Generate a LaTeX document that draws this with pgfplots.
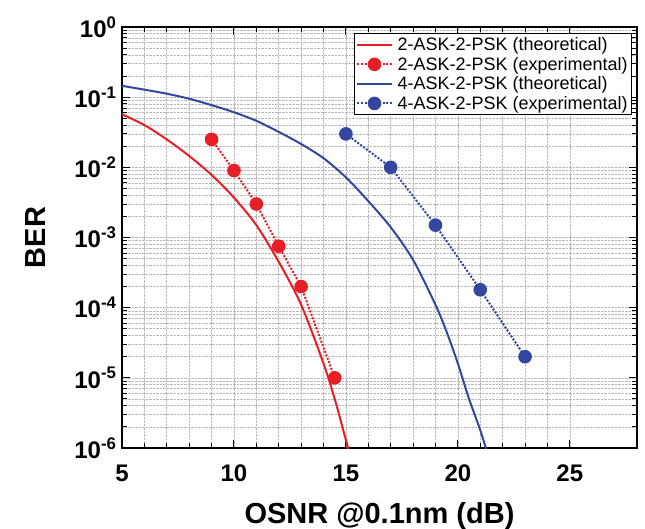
\documentclass[border=0pt]{standalone}
\usepackage{fontspec}
\setmainfont{Liberation Sans}
\usepackage{pgfplots}
\pgfplotsset{compat=1.18}
\definecolor{berred}{RGB}{232,30,38}
\definecolor{berblue}{RGB}{52,70,160}

\begin{document}
\begin{tikzpicture}
\useasboundingbox (-122pt,-81pt) rectangle (523pt,448pt);
\begin{axis}[
    scale only axis,
    width=515pt, height=421pt,
    ymode=log,
    xmin=5, xmax=28,
    ymin=1e-6, ymax=1,
    xtick={5,10,15,20,25},
    xticklabels={5,10,15,20,25},
    minor x tick num=4,
    ytick={1e-6,1e-5,1e-4,1e-3,1e-2,1e-1,1},
    yticklabels={10\textsuperscript{-6},10\textsuperscript{-5},10\textsuperscript{-4},10\textsuperscript{-3},10\textsuperscript{-2},10\textsuperscript{-1},10\textsuperscript{0}},
    ticklabel style={font=\fontsize{24}{24}\selectfont\bfseries},
    xticklabel style={yshift=-13pt},
    yticklabel style={xshift=-2pt},
    xlabel={OSNR @0.1nm (dB)},
    ylabel={BER},
    label style={font=\fontsize{29}{29}\selectfont\bfseries},
    xlabel shift=14pt,
    ylabel shift=22pt,
    grid=both,
    major grid style={gray!55, densely dotted, line width=0.6pt},
    minor grid style={gray!55, densely dotted, line width=0.6pt},
    major tick length=8pt, minor tick length=5pt,
    tick style={black, line width=1pt},
    axis line style={line width=1.4pt},
    legend style={at={(0.99,0.985)}, anchor=north east, draw=black,
        font=\fontsize{18}{19}\selectfont, row sep=1pt, column sep=3pt, inner sep=2pt},
    legend cell align=left,
    legend image code/.code={\draw[mark repeat=2,mark phase=2] plot coordinates {(0cm,0cm) (0.6cm,0cm) (1.2cm,0cm)};},
]
% 2-ASK-2-PSK theoretical
\addplot[berred, line width=2pt, mark=none, smooth] coordinates {
    (5,0.057) (6,0.040) (7,0.025) (8,0.0145) (9,0.0078) (10,0.0037)
    (11,0.0015) (12,4.5e-4) (13,1.1e-4) (14,1.6e-5) (14.5,5e-6)
    (15,1.3e-6) (15.3,6e-7)
};
% 2-ASK-2-PSK experimental
\addplot[berred, line width=2pt, dash pattern=on 2pt off 1.6pt, mark=*, mark size=5.8pt, mark options={solid}] coordinates {
    (9,0.025) (10,0.009) (11,0.003) (12,7.5e-4) (13,2e-4) (14.5,1e-5)
};
% 4-ASK-2-PSK theoretical
\addplot[berblue, line width=2pt, mark=none, smooth] coordinates {
    (5,0.145) (6,0.128) (7,0.112) (8,0.095) (9,0.077) (10,0.061)
    (11,0.046) (12,0.032) (13,0.0215) (14,0.0135) (15,0.0072)
    (16,0.0033) (17,1.4e-3) (18,4.8e-4) (19,1.1e-4) (19.5,4.5e-5)
    (20,1.6e-5) (20.5,5e-6) (21,1.8e-6) (21.4,7e-7)
};
% 4-ASK-2-PSK experimental
\addplot[berblue, line width=2pt, dash pattern=on 2pt off 1.6pt, mark=*, mark size=5.8pt, mark options={solid}] coordinates {
    (15,0.030) (17,0.010) (19,1.5e-3) (21,1.8e-4) (23,2e-5)
};
\legend{2-ASK-2-PSK (theoretical), 2-ASK-2-PSK (experimental), 4-ASK-2-PSK (theoretical), 4-ASK-2-PSK (experimental)}
\end{axis}
\end{tikzpicture}
\end{document}
